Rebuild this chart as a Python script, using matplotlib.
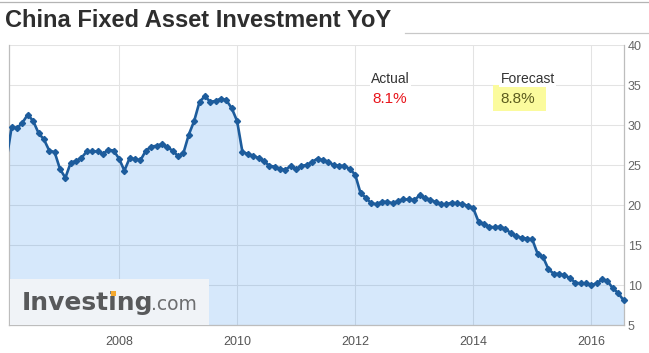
import matplotlib

matplotlib.use("Agg")
import matplotlib.pyplot as plt
import pandas as pd
from matplotlib.lines import Line2D
from matplotlib.patches import Rectangle

W, H = 649, 353

title = "China Fixed Asset Investment YoY"
start_month = "2006-02"
# YTD YoY %, one point per release (no January release), Feb 2006 .. Jul 2016
fai_yoy = [
    25.5, 29.8, 29.6, 30.3, 31.3, 30.5, 29.0, 28.2, 26.8, 26.6, 24.5,
    23.4, 25.3, 25.5, 25.9, 26.7, 26.7, 26.7, 26.4, 26.9, 26.8, 25.8,
    24.3, 25.9, 25.7, 25.6, 26.8, 27.3, 27.4, 27.6, 27.2, 26.8, 26.1,
    26.5, 28.8, 30.5, 32.9, 33.6, 32.9, 33.0, 33.3, 33.1, 32.1, 30.5,
    26.6, 26.4, 26.1, 25.9, 25.5, 24.9, 24.8, 24.5, 24.4, 24.9, 24.5,
    24.9, 25.0, 25.4, 25.8, 25.6, 25.4, 25.0, 24.9, 24.9, 24.5, 23.8,
    21.5, 20.9, 20.2, 20.1, 20.4, 20.4, 20.2, 20.5, 20.7, 20.7, 20.6,
    21.2, 20.9, 20.6, 20.4, 20.1, 20.1, 20.3, 20.2, 20.1, 19.9, 19.6,
    17.9, 17.6, 17.3, 17.2, 17.3, 17.0, 16.5, 16.1, 15.9, 15.8, 15.7,
    13.9, 13.5, 12.0, 11.4, 11.4, 11.2, 10.9, 10.3, 10.2, 10.2, 10.0,
    10.2, 10.7, 10.5, 9.6, 9.0, 8.1,
]
y_ticks = [5, 10, 15, 20, 25, 30, 35, 40]
actual_label, actual_value = "Actual", "8.1%"
forecast_label, forecast_value = "Forecast", "8.8%"

periods = [p for p in pd.period_range(start_month, periods=150, freq="M") if p.month != 1]
periods = periods[: len(fai_yoy)]
x = list(range(len(fai_yoy)))
year_ticks = [(i, str(p.year + 1)) for i, p in enumerate(periods)
              if p.month == 12 and (p.year + 1) % 2 == 0]


def fig_xy(px, py):
    return px / W, 1 - py / H


line_color = "#1d5c9c"
grey_text = "#333333"

fig = plt.figure(figsize=(W / 100, H / 100), dpi=100)
ax = fig.add_axes([9.3 / W, 28 / H, 614.2 / W, 280 / H])
ax.set_xlim(0.553, len(fai_yoy) - 1)
ax.set_ylim(y_ticks[0], y_ticks[-1])

ax.fill_between(x, fai_yoy, y_ticks[0], color=(50 / 255, 140 / 255, 235 / 255), alpha=0.2, lw=0, zorder=1)
ax.plot(x, fai_yoy, color=line_color, lw=1.9, zorder=3)
ax.plot(x[1:], fai_yoy[1:], ls="none", marker="D", ms=3.1, color=line_color, clip_on=False, zorder=4)

ax.set_yticks(y_ticks)
ax.set_xticks([i for i, _ in year_ticks], [label for _, label in year_ticks])
ax.yaxis.tick_right()
ax.tick_params(axis="y", length=0, pad=3, labelsize=9, labelcolor="#666666")
ax.tick_params(axis="x", length=0, pad=8, labelsize=9, labelcolor="#555555")
for label in ax.get_xticklabels() + ax.get_yticklabels():
    label.set_family("Liberation Sans")
ax.grid(True, color="#e3e3e3", lw=0.75, zorder=0)
ax.set_axisbelow(True)
ax.spines["top"].set_visible(False)
for side in ("left", "right", "bottom"):
    ax.spines[side].set_color("#bdbdbd")
    ax.spines[side].set_linewidth(0.9)

# header rules and title
fig.add_artist(Line2D([0, 1], [1 - 1.5 / H] * 2, color="#b4b4b4", lw=0.9))
fig.add_artist(Line2D([405 / W, 1], [1 - 33.3 / H] * 2, color="#c8c8c8", lw=0.9))
fig.text(*fig_xy(5, 27.3), title, family="Liberation Sans", weight="bold", size=17,
         color="#2e2e2e", va="baseline")

# actual / forecast box
fig.text(*fig_xy(371, 83), actual_label, family="Liberation Sans", size=10, color=grey_text,
         va="baseline", bbox=dict(fc="white", ec="none", pad=1))
fig.text(*fig_xy(372, 103), actual_value, family="Liberation Sans", size=11, color="#e8141b",
         va="baseline")
fig.text(*fig_xy(500.7, 83), forecast_label, family="Liberation Sans", size=10, color=grey_text,
         va="baseline", bbox=dict(fc="white", ec="none", pad=1))
fig.add_artist(Rectangle(fig_xy(492.7, 110.7), 53.3 / W, 25.7 / H, transform=fig.transFigure,
                         fc="#fbfb9d", ec="none", zorder=2))
fig.text(*fig_xy(500, 103), forecast_value, family="Liberation Sans", size=11, color="#5c5c1e",
         va="baseline", zorder=3)

# watermark
fig.add_artist(Rectangle(fig_xy(9.8, 324.5), 199 / W, 45.5 / H, transform=fig.transFigure,
                         fc="#f0f3f7", ec="none", zorder=2))
fig.text(*fig_xy(22, 310), "Investing", family="DejaVu Sans", weight="bold", size=18,
         color="#58595b", va="baseline", zorder=3)
fig.text(*fig_xy(151, 310), ".com", family="DejaVu Sans", size=13.5, color="#6d6e70",
         va="baseline", zorder=3)
fig.add_artist(Rectangle(fig_xy(111, 296), 5 / W, 5 / H, transform=fig.transFigure,
                         fc="#f5a930", ec="none", zorder=4))

fig.savefig("out.png", dpi=100)
